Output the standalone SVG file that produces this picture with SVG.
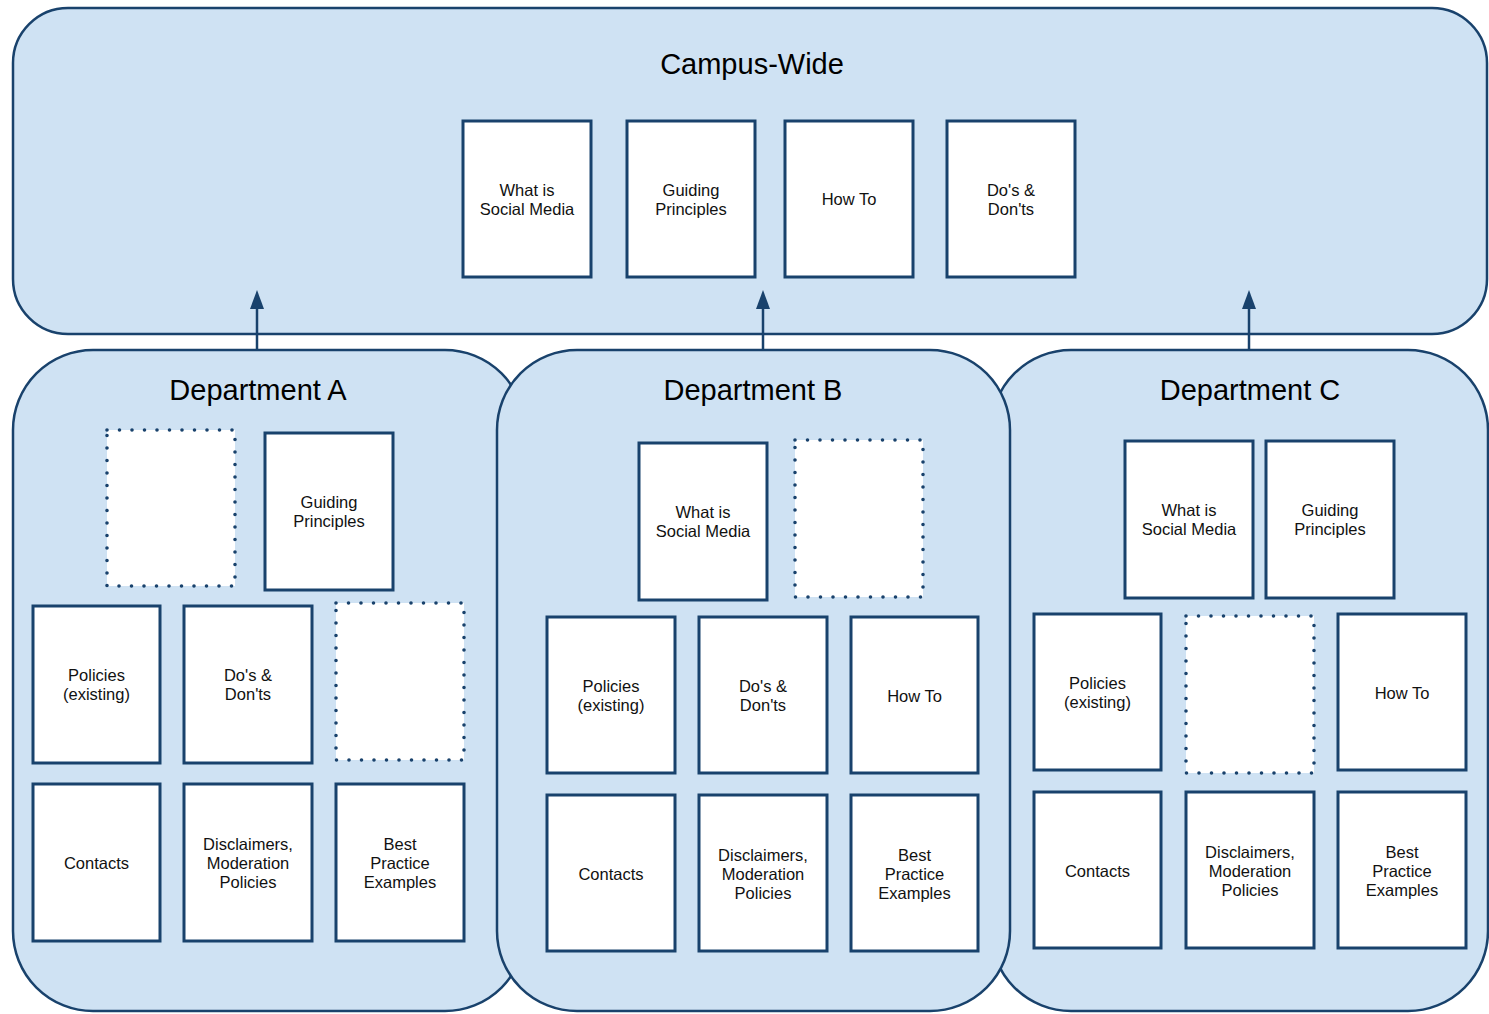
<svg xmlns="http://www.w3.org/2000/svg" width="1489" height="1014" viewBox="0 0 1489 1014">
<defs>
<style>
.container{fill:#cfe2f3;stroke:#19426c;stroke-width:2.5}
.box{fill:#ffffff;stroke:#19426c;stroke-width:3}
.dotted{fill:#ffffff;stroke:#19426c;stroke-width:3.6;stroke-dasharray:0 12.5;stroke-linecap:round}
.title{font-family:"Liberation Sans",Arial,sans-serif;font-size:29px;fill:#000;text-anchor:middle}
.lbl{font-family:"Liberation Sans",Arial,sans-serif;font-size:16.5px;fill:#111;text-anchor:middle}
.conn{stroke:#19426c;stroke-width:2.5;fill:none}
</style>
<marker id="arrow" viewBox="0 0 19 14" markerWidth="19" markerHeight="14" refX="0" refY="7" orient="auto" markerUnits="userSpaceOnUse">
<path d="M0,0 L19,7 L0,14 z" fill="#19426c"/>
</marker>
</defs>
<rect width="1489" height="1014" fill="#ffffff"/>

<g id="campus-wide">
<rect class="container" x="13" y="8" width="1474" height="326" rx="55" ry="55"/>
<text class="title" x="752" y="74">Campus-Wide</text>
<g id="cw-what"><rect class="box" x="463" y="121" width="128" height="156"/><text class="lbl" x="527" y="195.5">What is<tspan x="527" dy="19">Social Media</tspan></text></g>
<g id="cw-guiding"><rect class="box" x="627" y="121" width="128" height="156"/><text class="lbl" x="691" y="195.5">Guiding<tspan x="691" dy="19">Principles</tspan></text></g>
<g id="cw-howto"><rect class="box" x="785" y="121" width="128" height="156"/><text class="lbl" x="849" y="205">How To</text></g>
<g id="cw-dos"><rect class="box" x="947" y="121" width="128" height="156"/><text class="lbl" x="1011" y="195.5">Do's &amp;<tspan x="1011" dy="19">Don'ts</tspan></text></g>
</g>

<g id="department-a">
<rect class="container" x="13" y="350" width="512" height="661" rx="80" ry="80"/>
<text class="title" x="258" y="400">Department A</text>
<g id="a-empty1"><rect class="dotted" x="107" y="430" width="128" height="156"/></g>
<g id="a-guiding"><rect class="box" x="265" y="433" width="128" height="157"/><text class="lbl" x="329" y="508">Guiding<tspan x="329" dy="19">Principles</tspan></text></g>
<g id="a-policies"><rect class="box" x="33" y="606" width="127" height="157"/><text class="lbl" x="96.5" y="681">Policies<tspan x="96.5" dy="19">(existing)</tspan></text></g>
<g id="a-dos"><rect class="box" x="184" y="606" width="128" height="157"/><text class="lbl" x="248" y="681">Do's &amp;<tspan x="248" dy="19">Don'ts</tspan></text></g>
<g id="a-empty2"><rect class="dotted" x="336" y="603" width="128" height="157"/></g>
<g id="a-contacts"><rect class="box" x="33" y="784" width="127" height="157"/><text class="lbl" x="96.5" y="868.5">Contacts</text></g>
<g id="a-disclaimers"><rect class="box" x="184" y="784" width="128" height="157"/><text class="lbl" x="248" y="849.5">Disclaimers,<tspan x="248" dy="19">Moderation</tspan><tspan x="248" dy="19">Policies</tspan></text></g>
<g id="a-best"><rect class="box" x="336" y="784" width="128" height="157"/><text class="lbl" x="400" y="849.5">Best<tspan x="400" dy="19">Practice</tspan><tspan x="400" dy="19">Examples</tspan></text></g>
</g>

<g id="department-c">
<rect class="container" x="991" y="350" width="497" height="661" rx="80" ry="80"/>
<text class="title" x="1250" y="400">Department C</text>
<g id="c-what"><rect class="box" x="1125" y="441" width="128" height="157"/><text class="lbl" x="1189" y="516">What is<tspan x="1189" dy="19">Social Media</tspan></text></g>
<g id="c-guiding"><rect class="box" x="1266" y="441" width="128" height="157"/><text class="lbl" x="1330" y="516">Guiding<tspan x="1330" dy="19">Principles</tspan></text></g>
<g id="c-policies"><rect class="box" x="1034" y="614" width="127" height="156"/><text class="lbl" x="1097.5" y="689">Policies<tspan x="1097.5" dy="19">(existing)</tspan></text></g>
<g id="c-empty"><rect class="dotted" x="1186" y="616" width="128" height="157"/></g>
<g id="c-howto"><rect class="box" x="1338" y="614" width="128" height="156"/><text class="lbl" x="1402" y="698.5">How To</text></g>
<g id="c-contacts"><rect class="box" x="1034" y="792" width="127" height="156"/><text class="lbl" x="1097.5" y="876.5">Contacts</text></g>
<g id="c-disclaimers"><rect class="box" x="1186" y="792" width="128" height="156"/><text class="lbl" x="1250" y="857.5">Disclaimers,<tspan x="1250" dy="19">Moderation</tspan><tspan x="1250" dy="19">Policies</tspan></text></g>
<g id="c-best"><rect class="box" x="1338" y="792" width="128" height="156"/><text class="lbl" x="1402" y="857.5">Best<tspan x="1402" dy="19">Practice</tspan><tspan x="1402" dy="19">Examples</tspan></text></g>
</g>

<g id="department-b">
<rect class="container" x="497" y="350" width="513" height="661" rx="80" ry="80"/>
<text class="title" x="753" y="400">Department B</text>
<g id="b-what"><rect class="box" x="639" y="443" width="128" height="157"/><text class="lbl" x="703" y="518">What is<tspan x="703" dy="19">Social Media</tspan></text></g>
<g id="b-empty"><rect class="dotted" x="795" y="440" width="128" height="157"/></g>
<g id="b-policies"><rect class="box" x="547" y="617" width="128" height="156"/><text class="lbl" x="611" y="692">Policies<tspan x="611" dy="19">(existing)</tspan></text></g>
<g id="b-dos"><rect class="box" x="699" y="617" width="128" height="156"/><text class="lbl" x="763" y="692">Do's &amp;<tspan x="763" dy="19">Don'ts</tspan></text></g>
<g id="b-howto"><rect class="box" x="851" y="617" width="127" height="156"/><text class="lbl" x="914.5" y="701.5">How To</text></g>
<g id="b-contacts"><rect class="box" x="547" y="795" width="128" height="156"/><text class="lbl" x="611" y="879.5">Contacts</text></g>
<g id="b-disclaimers"><rect class="box" x="699" y="795" width="128" height="156"/><text class="lbl" x="763" y="860.5">Disclaimers,<tspan x="763" dy="19">Moderation</tspan><tspan x="763" dy="19">Policies</tspan></text></g>
<g id="b-best"><rect class="box" x="851" y="795" width="127" height="156"/><text class="lbl" x="914.5" y="860.5">Best<tspan x="914.5" dy="19">Practice</tspan><tspan x="914.5" dy="19">Examples</tspan></text></g>
</g>

<g id="connectors">
<line class="conn" x1="257" y1="350" x2="257" y2="309" marker-end="url(#arrow)"/>
<line class="conn" x1="763" y1="350" x2="763" y2="309" marker-end="url(#arrow)"/>
<line class="conn" x1="1249" y1="350" x2="1249" y2="309" marker-end="url(#arrow)"/>
</g>
</svg>
